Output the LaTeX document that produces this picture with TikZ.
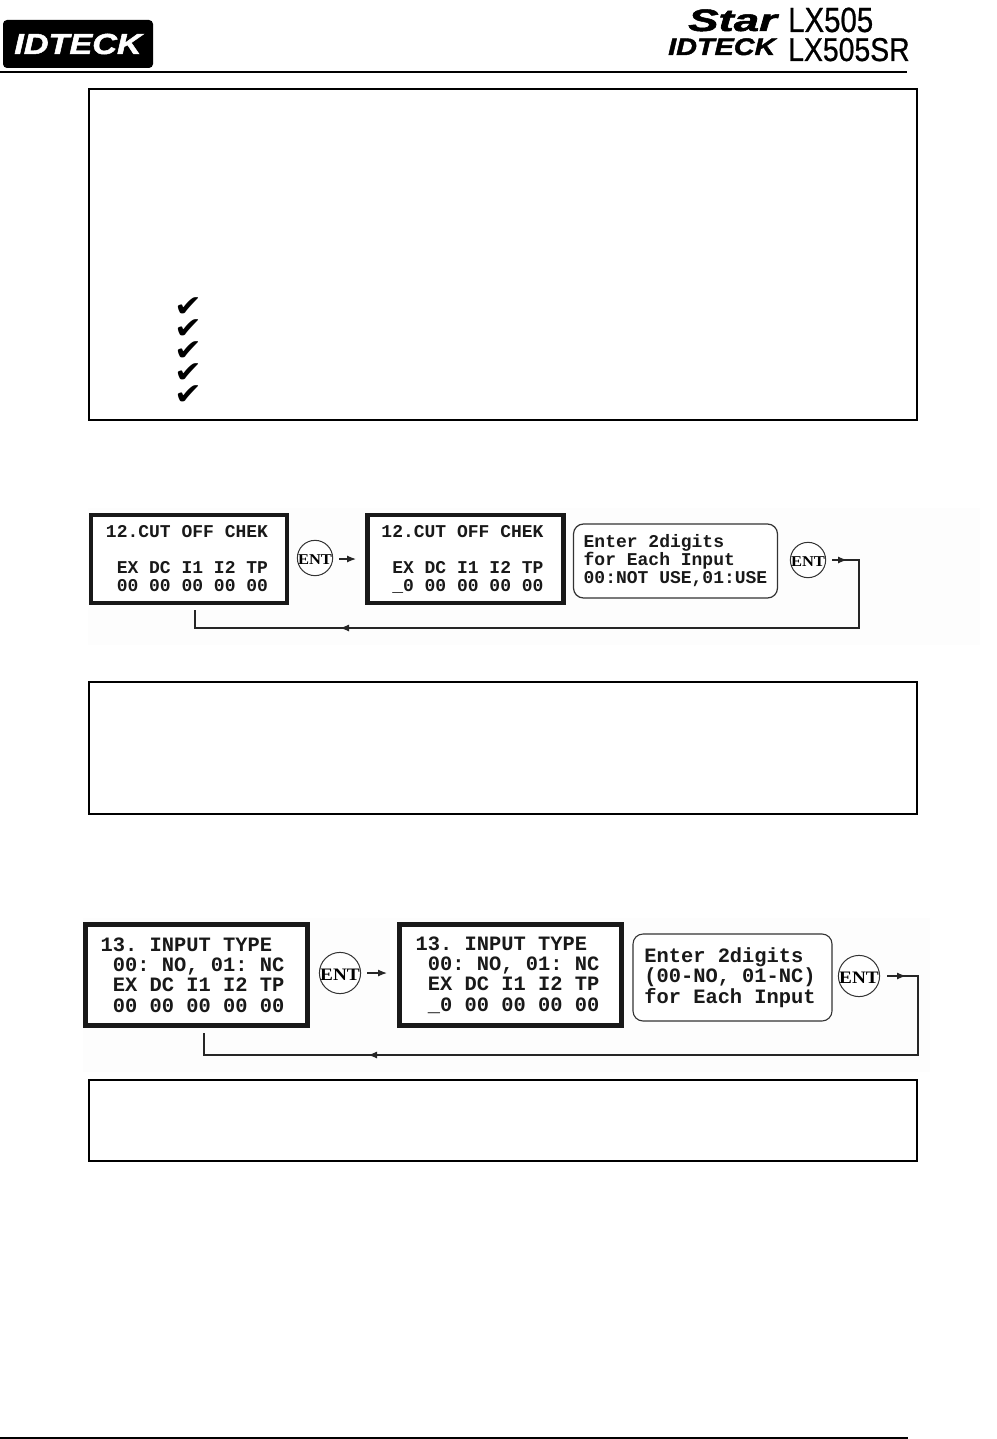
\documentclass[tikz,border=0pt]{standalone}
\usepackage{fontspec}
\setmainfont{Liberation Sans}
\newfontfamily\lcdfont{Liberation Mono}[BoldFont={Liberation Mono Bold}]
\newfontfamily\entfont{Liberation Serif}
\newfontfamily\symfont{DejaVu Sans}
\newfontfamily\logofont{Liberation Sans Bold Italic}[FakeBold=1.6]
\newfontfamily\modelfont{Liberation Sans}[FakeBold=0.7]
\usetikzlibrary{arrows.meta,positioning}
\tikzset{
  x=1pt,y=-1pt,
  frame/.style={draw=black,line width=2pt,fill=none},
  lcdA/.style={draw=black!90,line width=4.4pt,fill=white,minimum width=196pt,minimum height=88pt,inner sep=0pt},
  lcdB/.style={draw=black!90,line width=5pt,fill=white,minimum width=222pt,minimum height=101pt,inner sep=0pt},
  noteA/.style={draw=black!80,line width=1.2pt,fill=white,rounded corners=10pt,minimum width=204pt,minimum height=74pt,inner sep=0pt},
  noteB/.style={draw=black!80,line width=1.1pt,fill=white,rounded corners=10pt,minimum width=199pt,minimum height=87pt,inner sep=0pt},
  txtA/.style={font=\frenchspacing\lcdfont\bfseries\fontsize{18}{18}\selectfont,inner sep=0pt,text=black!90},
  txtB/.style={font=\frenchspacing\lcdfont\bfseries\fontsize{20.4}{20.4}\selectfont,inner sep=0pt,text=black!90},
  entA/.style={circle,draw=black!80,line width=1pt,fill=white,minimum size=34pt,inner sep=0pt,font=\entfont\bfseries\fontsize{15}{15}\selectfont},
  entB/.style={circle,draw=black!80,line width=1pt,fill=white,minimum size=38pt,inner sep=0pt,font=\entfont\bfseries\fontsize{17.5}{17.5}\selectfont},
  wire/.style={draw=black!85,line width=1.2pt},
  tip/.style={draw=black!85,line width=1.2pt,-{Latex[length=9pt,width=7pt]}},
  chk/.style={font=\symfont\fontsize{23}{23}\selectfont,inner sep=0pt}
}
\newcommand{\enttext}{\raisebox{-2pt}[\height][\depth]{\scalebox{1.1}[1]{ENT}}}
\newcommand{\chkmark}{\scalebox{1.45}[1.3]{✔}}
\begin{document}
\begin{tikzpicture}
\useasboundingbox (0,0) rectangle (996,1439);
\fill[white] (0,0) rectangle (996,1439);
% header
\coordinate (hl) at (0,72); \coordinate (hr) at (907,72);
\draw[line width=1.2pt] (hl) -- (hr);
\coordinate (fl) at (0,1438); \coordinate (fr) at (908,1438);
\draw[line width=1.8pt] (fl) -- (fr);
\node[fill=black,rounded corners=4pt,minimum width=150pt,minimum height=48pt,inner sep=0pt,text=white,font=\logofont\fontsize{29}{29}\selectfont] (logo) at (78,44) {\scalebox{1.18}[1]{IDTECK}};
\node[anchor=base west,inner sep=0pt,font=\logofont\fontsize{31}{31}\selectfont] (star) at (688,31) {\scalebox{1.47}[1]{Star}};
\node[anchor=base west,inner sep=0pt,font=\modelfont\fontsize{35}{35}\selectfont] (lx1) at (788,32) {\scalebox{.84}[1]{LX505}};
\node[anchor=base west,inner sep=0pt,font=\logofont\fontsize{24}{24}\selectfont] (idt) at (668,55) {\scalebox{1.2}[1]{IDTECK}};
\node[anchor=base west,inner sep=0pt,font=\modelfont\fontsize{33}{33}\selectfont] (lx2) at (788,61) {\scalebox{.86}[1]{LX505SR}};
% text frames
\node[frame,minimum width=828pt,minimum height=331pt,inner sep=0pt] (f1) at (503,254.5) {};
\node[frame,minimum width=828pt,minimum height=132pt,inner sep=0pt] (f2) at (503,748) {};
\node[frame,minimum width=828pt,minimum height=81pt,inner sep=0pt] (f3) at (503,1120.5) {};
% checks
\node[chk] (c1) at (188,307) {\chkmark};
\node[chk] (c2) at (188,329) {\chkmark};
\node[chk] (c3) at (188,351) {\chkmark};
\node[chk] (c4) at (188,373) {\chkmark};
\node[chk] (c5) at (188,395) {\chkmark};
% image tints
\fill[black!0.8] (88,508) rectangle (980,645);
\fill[black!0.8] (83,918) rectangle (930,1072);
% flow 1
\node[lcdA] (a) at (189,559) {};
\node[txtA,align=right] (at) at (187,559) {12.CUT OFF CHEK\\ \strut\\EX DC I1 I2 TP\\00 00 00 00 00};
\node[lcdA] (b) at (465.5,559) {};
\node[txtA,align=right] (bt) at (462.5,559) {12.CUT OFF CHEK\\ \strut\\EX DC I1 I2 TP\\\_0 00 00 00 00};
\node[noteA] (cc) at (675.5,561) {};
\node[txtA,align=left] (ct) at (675.5,561) {Enter 2digits\\for Each Input\\00:NOT USE,01:USE};
\node[entA] (e1) at (315,558) {\enttext};
\node[entA] (e2) at (808,560) {\enttext};
\coordinate (e1a) at (339,559); \coordinate (e1b) at (356,559);
\draw[tip] (e1a) -- (e1b);
\coordinate (e2a) at (832,560); \coordinate (e2h) at (847,560); \coordinate (e2c) at (859,560);
\coordinate (g1) at (859,628); \coordinate (g1h) at (340,628); \coordinate (g2) at (195,628); \coordinate (g3) at (195,610);
\draw[wire] (e2a) -- (e2c) -- (g1) -- (g2) -- (g3);
\draw[tip] (e2a) -- (e2h);
\draw[tip] (g1) -- (g1h);
% flow 2
\node[lcdB] (d) at (196.5,975) {};
\node[txtB,align=left] (dt) at (192.5,975) {13. INPUT TYPE\\\ 00: NO, 01: NC\\\ EX DC I1 I2 TP\\\ 00 00 00 00 00};
\node[lcdB] (ee) at (510,975) {};
\node[txtB,align=left] (et) at (507.5,975) {13. INPUT TYPE\\\ 00: NO, 01: NC\\\ EX DC I1 I2 TP\\\ \_0 00 00 00 00};
\node[noteB] (ff) at (732.5,977.5) {};
\node[txtB,align=left] (ft) at (730,977.5) {Enter 2digits\\(00-NO, 01-NC)\\for Each Input};
\node[entB] (e3) at (340,973) {\enttext};
\node[entB] (e4) at (859,976) {\enttext};
\coordinate (e3a) at (367,973); \coordinate (e3b) at (387,973);
\draw[tip] (e3a) -- (e3b);
\coordinate (e4a) at (887,976); \coordinate (e4h) at (906,976); \coordinate (e4c) at (918,976);
\coordinate (k1) at (918,1055); \coordinate (k1h) at (368,1055); \coordinate (k2) at (204,1055); \coordinate (k3) at (204,1033);
\draw[wire] (e4a) -- (e4c) -- (k1) -- (k2) -- (k3);
\draw[tip] (e4a) -- (e4h);
\draw[tip] (k1) -- (k1h);
\end{tikzpicture}
\end{document}
